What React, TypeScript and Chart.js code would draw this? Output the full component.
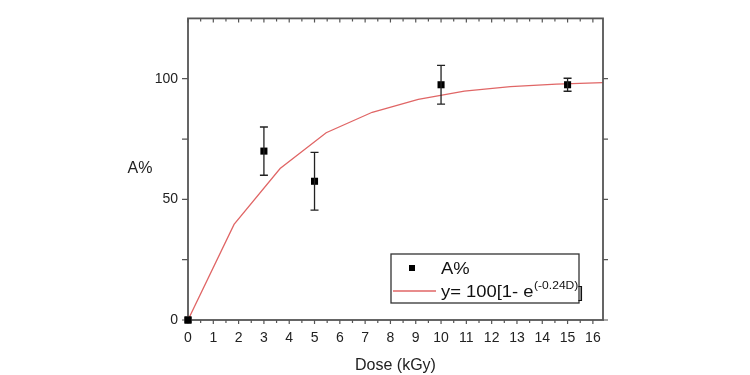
import React, { useEffect, useRef } from "react";
import { Chart, registerables } from "chart.js";

Chart.register(...registerables);

const doseValues = [0, 3, 5, 10, 15];
const aPercent = [0, 70, 57.5, 97.5, 97.5];
const aError = [0, 10, 12, 8, 2.7];

const fitDose = [0, 1.82, 3.64, 5.46, 7.28, 9.1, 10.92, 12.74, 14.56, 16.4];
const fitValues = [0, 39.6, 62.8, 77.6, 86.1, 91.4, 94.9, 96.7, 97.8, 98.4];

const xTickLabels = [0, 1, 2, 3, 4, 5, 6, 7, 8, 9, 10, 11, 12, 13, 14, 15, 16];
const yTickLabels = [0, 50, 100];
const yMinorTicks = [25, 75, 125];

const FONT = "'Liberation Sans', Arial, sans-serif";
const AXIS_COLOR = "#555";
const FIT_COLOR = "#e06666";

const decorPlugin = {
  id: "decor",
  afterDatasetsDraw(chart: any) {
    const ctx = chart.ctx;
    const x = chart.scales.x;
    const y = chart.scales.y;
    ctx.save();
    ctx.strokeStyle = "#222";
    ctx.lineWidth = 1.3;
    doseValues.forEach((d, i) => {
      const e = aError[i];
      if (!e) return;
      const px = x.getPixelForValue(d);
      const top = y.getPixelForValue(aPercent[i] + e);
      const bot = y.getPixelForValue(aPercent[i] - e);
      ctx.beginPath();
      ctx.moveTo(px, top);
      ctx.lineTo(px, bot);
      ctx.moveTo(px - 4, top);
      ctx.lineTo(px + 4, top);
      ctx.moveTo(px - 4, bot);
      ctx.lineTo(px + 4, bot);
      ctx.stroke();
    });
    ctx.restore();
  },
  afterDraw(chart: any) {
    const ctx = chart.ctx;
    const x = chart.scales.x;
    const y = chart.scales.y;
    const a = chart.chartArea;
    ctx.save();
    // frame
    ctx.strokeStyle = AXIS_COLOR;
    ctx.lineWidth = 1.8;
    ctx.strokeRect(a.left, a.top, a.right - a.left, a.bottom - a.top);
    ctx.lineWidth = 1.2;
    ctx.beginPath();
    for (let v = 0; v <= 16.001; v += 0.5) {
      const px = x.getPixelForValue(v);
      const major = Math.abs(v - Math.round(v)) < 1e-6;
      const len = major ? 4 : 3;
      ctx.moveTo(px, a.bottom);
      ctx.lineTo(px, a.bottom + len);
      ctx.moveTo(px, a.top);
      ctx.lineTo(px, a.top + len);
    }
    [...yTickLabels, ...yMinorTicks].forEach((v) => {
      const py = y.getPixelForValue(v);
      if (py < a.top + 1) return;
      ctx.moveTo(a.left - 6, py);
      ctx.lineTo(a.left, py);
      ctx.moveTo(a.right, py);
      ctx.lineTo(a.right + 5, py);
    });
    ctx.stroke();

    // redraw origin marker on top of the frame
    ctx.fillStyle = "#000";
    const ox = x.getPixelForValue(doseValues[0]);
    const oy = y.getPixelForValue(aPercent[0]);
    ctx.fillRect(ox - 3.5, oy - 3.5, 7, 7);

    // y title (horizontal)
    ctx.fillStyle = "#222";
    ctx.font = `16px ${FONT}`;
    ctx.textAlign = "center";
    ctx.textBaseline = "middle";
    ctx.fillText("A%", 140, 169);

    // legend box
    const lx = 391, ly = 254, lw = 188, lh = 49;
    ctx.fillStyle = "#fff";
    ctx.fillRect(lx, ly, lw, lh);
    ctx.strokeStyle = "#333";
    ctx.lineWidth = 1.3;
    ctx.strokeRect(lx, ly, lw, lh);
    ctx.fillStyle = "#000";
    ctx.fillRect(409, 265, 6, 6);
    ctx.strokeStyle = FIT_COLOR;
    ctx.lineWidth = 1.3;
    ctx.beginPath();
    ctx.moveTo(393, 291);
    ctx.lineTo(436, 291);
    ctx.stroke();
    ctx.fillStyle = "#111";
    ctx.textAlign = "left";
    ctx.textBaseline = "alphabetic";
    const sx = 1.15;
    const drawW = (t: string, px: number, py: number, size: number) => {
      ctx.save();
      ctx.font = `${size}px ${FONT}`;
      ctx.translate(px, py);
      ctx.scale(sx, 1);
      ctx.fillText(t, 0, 0);
      const w = ctx.measureText(t).width * sx;
      ctx.restore();
      return w;
    };
    drawW("A%", 441, 274, 16);
    let cx = 441;
    cx += drawW("y= 100[1- e", cx, 297, 16);
    cx += drawW("(-0.24D)", cx + 0.5, 289, 10.5) + 0.5;
    drawW("]", cx, 298, 16);
    ctx.restore();
  },
};

export default function App() {
  const ref = useRef<HTMLCanvasElement | null>(null);
  useEffect(() => {
    if (!ref.current) return;
    const chart = new Chart(ref.current, {
      type: "scatter",
      data: {
        datasets: [
          {
            label: "fit",
            data: fitDose.map((d, i) => ({ x: d, y: fitValues[i] })),
            showLine: true,
            borderColor: FIT_COLOR,
            borderWidth: 1.3,
            pointRadius: 0,
            tension: 0,
            order: 2,
          },
          {
            label: "A%",
            data: doseValues.map((d, i) => ({ x: d, y: aPercent[i] })),
            showLine: false,
            pointStyle: "rect",
            pointRadius: 5,
            backgroundColor: "#000",
            borderColor: "#000",
            borderWidth: 0,
            clip: false,
            order: 1,
          },
        ],
      },
      options: {
        responsive: true,
        maintainAspectRatio: false,
        animation: false,
        layout: { padding: { left: 0, right: 147, top: 15, bottom: 0 } },
        plugins: {
          legend: { display: false },
          tooltip: { enabled: false },
        },
        scales: {
          x: {
            type: "linear",
            min: 0,
            max: 16.4,
            grid: { display: false, drawTicks: false },
            border: { display: false },
            afterBuildTicks: (s: any) => {
              s.ticks = xTickLabels.map((v) => ({ value: v }));
            },
            afterFit: (s: any) => {
              s.height = 55;
            },
            ticks: {
              padding: 10,
              color: "#222",
              font: { family: FONT, size: 14 },
              maxRotation: 0,
              autoSkip: false,
            },
            title: {
              display: true,
              text: "Dose (kGy)",
              color: "#222",
              font: { family: FONT, size: 16 },
              padding: { top: 2, bottom: 0 },
            },
          },
          y: {
            type: "linear",
            min: 0,
            max: 125,
            grid: { display: false, drawTicks: false },
            border: { display: false },
            afterBuildTicks: (s: any) => {
              s.ticks = yTickLabels.map((v) => ({ value: v }));
            },
            afterFit: (s: any) => {
              s.width = 188;
            },
            ticks: {
              padding: 10,
              color: "#222",
              font: { family: FONT, size: 14 },
            },
          },
        },
      },
      plugins: [decorPlugin],
    });
    return () => chart.destroy();
  }, []);
  return (
    <div style={{ position: "fixed", left: 0, top: 0, width: 750, height: 375, background: "#fff" }}>
      <canvas ref={ref} />
    </div>
  );
}
